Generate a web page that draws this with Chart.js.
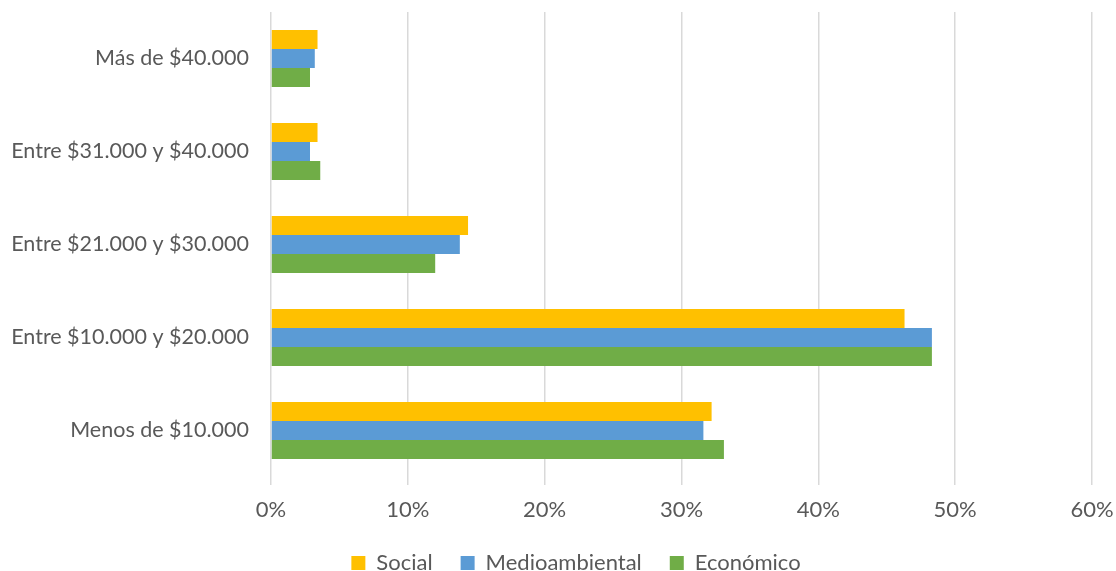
<!DOCTYPE html>
<html>
<head>
<meta charset="utf-8">
<script src="https://cdn.jsdelivr.net/npm/chart.js@4/dist/chart.umd.min.js"></script>
<style>
  html, body { margin: 0; padding: 0; background: #fff; }
  #wrap { width: 1116px; height: 571px; }
</style>
</head>
<body>
<div id="wrap"><canvas id="chart" width="1116" height="571"></canvas></div>
<script>
// data
const categories = [
    "Más de $40.000",
    "Entre $31.000 y $40.000",
    "Entre $21.000 y $30.000",
    "Entre $10.000 y $20.000",
    "Menos de $10.000"
];
const social = [3.4, 3.4, 14.4, 46.3, 32.2];
const medioambiental = [3.2, 2.85, 13.8, 48.3, 31.6];
const economico = [2.85, 3.6, 12.0, 48.3, 33.1];
const xTicks = [0, 10, 20, 30, 40, 50, 60];

const textColor = "#595959";
const fontFamily = "Lato, 'Open Sans', sans-serif";

// legend keeps its horizontal spacing but takes less height,
// and sits a little right of the canvas centre like the original
const tightLegend = {
    id: "tightLegend",
    afterInit(chart) {
        const lg = chart.legend;
        if (!lg) return;
        const fit = lg.fit.bind(lg);
        lg.fit = function () {
            fit();
            this.height -= 13;
        };
    },
    afterLayout(chart) {
        const lg = chart.legend;
        if (!lg) return;
        lg.left += 26;
        lg.right += 26;
    }
};

const ctx = document.getElementById("chart").getContext("2d");

new Chart(ctx, {
    type: "bar",
    data: {
        labels: categories,
        datasets: [
            { label: "Social", data: social, backgroundColor: "#ffc000" },
            { label: "Medioambiental", data: medioambiental, backgroundColor: "#5b9bd5" },
            { label: "Económico", data: economico, backgroundColor: "#70ad47" }
        ]
    },
    plugins: [tightLegend],
    options: {
        indexAxis: "y",
        responsive: false,
        animation: false,
        layout: { padding: { left: 8, right: 24, top: 12, bottom: 0 } },
        datasets: {
            bar: { categoryPercentage: 0.614, barPercentage: 1.0 }
        },
        scales: {
            x: {
                min: 0,
                max: 60,
                afterBuildTicks: axis => { axis.ticks = xTicks.map(v => ({ value: v })); },
                afterFit: scale => {
                    scale.height = 47;
                    scale.paddingRight = 0;
                    scale.paddingLeft = 0;
                },
                ticks: {
                    color: textColor,
                    font: { family: fontFamily, size: 22 },
                    padding: 12,
                    callback: v => v + "%"
                },
                grid: { color: "#d9d9d9", lineWidth: 1.5, tickLength: 8 },
                border: { display: false }
            },
            y: {
                afterFit: scale => {
                    scale.width = 263;
                    scale.paddingTop = 0;
                    scale.paddingBottom = 0;
                },
                ticks: {
                    color: textColor,
                    font: { family: fontFamily, size: 21.5 },
                    padding: 14
                },
                grid: { display: false },
                border: { display: false }
            }
        },
        plugins: {
            legend: {
                position: "bottom",
                labels: {
                    color: textColor,
                    font: { family: fontFamily, size: 22 },
                    boxWidth: 14,
                    boxHeight: 14,
                    padding: 28
                }
            },
            tooltip: { enabled: false }
        }
    }
});
</script>
</body>
</html>
